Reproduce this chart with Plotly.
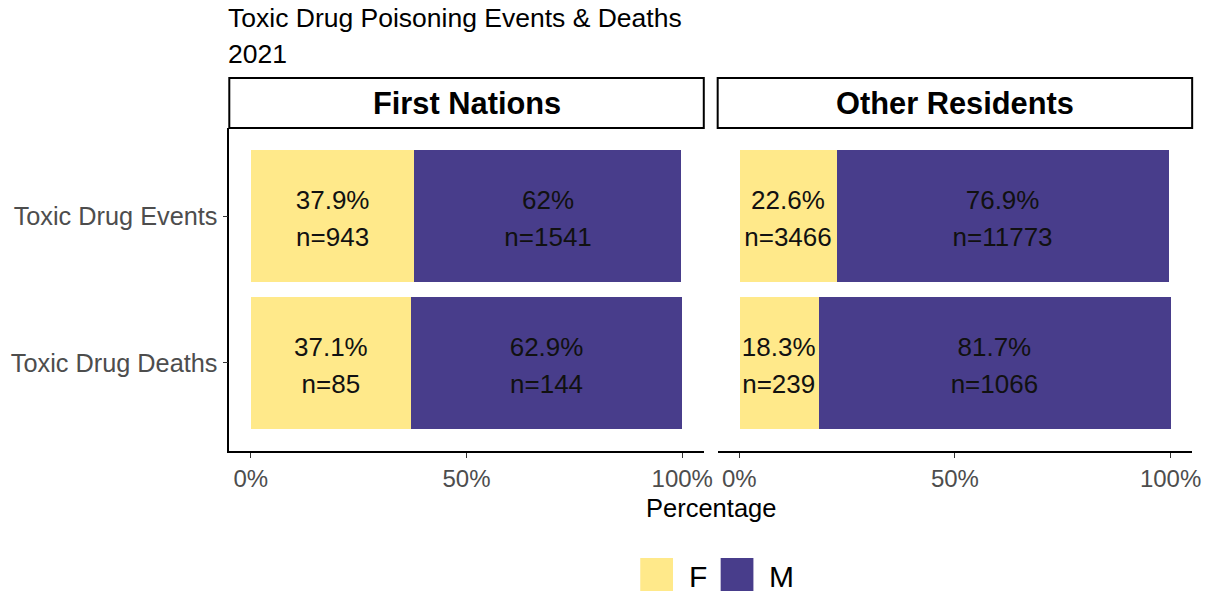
import plotly.graph_objects as go

# ---- data ----
categories = ["Toxic Drug Deaths", "Toxic Drug Events"]  # bottom -> top
groups = ["First Nations", "Other Residents"]
sexes = ["F", "M"]
pct_F_fn = [37.1, 37.9]
pct_M_fn = [62.9, 62.0]
n_F_fn = [85, 943]
n_M_fn = [144, 1541]
pct_F_or = [18.3, 22.6]
pct_M_or = [81.7, 76.9]
n_F_or = [239, 3466]
n_M_or = [1066, 11773]
x_ticks = [0, 50, 100]
x_tick_labels = ["0%", "50%", "100%"]

colors = {"F": "#FFE98A", "M": "#483D8B"}
FONT = "Liberation Sans, Arial, sans-serif"
W, H = 1223, 592

def px_x(p):
    return p / W

def px_y(p):
    return 1 - p / H

panels = [
    dict(name=groups[0], F=pct_F_fn, M=pct_M_fn, nF=n_F_fn, nM=n_M_fn, xa="x", ya="y", x0=231, x1=709),
    dict(name=groups[1], F=pct_F_or, M=pct_M_or, nF=n_F_or, nM=n_M_or, xa="x2", ya="y2", x0=723, x1=1201),
]
ypos = list(range(len(categories)))

fig = go.Figure()
for p in panels:
    for s in sexes:
        fig.add_trace(go.Bar(
            x=p[s], y=ypos, orientation="h", width=0.9,
            marker=dict(color=colors[s], line=dict(width=0)),
            name=s, showlegend=False, xaxis=p["xa"], yaxis=p["ya"],
            hoverinfo="skip",
        ))
    # labels
    cx_F = [f / 2 for f in p["F"]]
    cx_M = [f + m / 2 for f, m in zip(p["F"], p["M"])]
    for cx, vals, ns in [(cx_F, p["F"], p["nF"]), (cx_M, p["M"], p["nM"])]:
        fig.add_trace(go.Scatter(
            x=cx, y=[y + 0.092 for y in ypos], mode="text",
            text=[f"{v:g}%" for v in vals], textposition="middle center",
            textfont=dict(family=FONT, size=26, color="#111111"),
            showlegend=False, xaxis=p["xa"], yaxis=p["ya"], hoverinfo="skip",
        ))
        fig.add_trace(go.Scatter(
            x=cx, y=[y - 0.16 for y in ypos], mode="text",
            text=[f"n={n}" for n in ns], textposition="middle center",
            textfont=dict(family=FONT, size=26, color="#111111"),
            showlegend=False, xaxis=p["xa"], yaxis=p["ya"], hoverinfo="skip",
        ))

panel_y = [px_y(451), px_y(128)]
common_x = dict(range=[-5, 105], tickvals=x_ticks, ticktext=x_tick_labels,
                showline=True, linecolor="black", linewidth=1.5, ticks="outside",
                ticklen=5, tickcolor="#333333", tickwidth=1.2, showgrid=False, zeroline=False,
                tickfont=dict(family=FONT, size=24, color="#4D4D4D"), fixedrange=True)
fig.update_layout(
    width=W, height=H, margin=dict(l=0, r=0, t=0, b=0), autosize=False,
    paper_bgcolor="white", plot_bgcolor="white", barmode="stack", bargap=0,
    showlegend=False,
    xaxis=dict(domain=[px_x(231), px_x(709)], anchor="y", **common_x),
    xaxis2=dict(domain=[px_x(723), px_x(1201)], anchor="y2", **common_x),
    yaxis=dict(domain=panel_y, anchor="x", range=[-0.6, 1.6], tickvals=ypos, ticktext=categories,
               showline=True, linecolor="black", linewidth=1.5, ticks="outside", ticklen=5,
               tickcolor="#333333", tickwidth=1.2, showgrid=False, zeroline=False,
               tickfont=dict(family=FONT, size=25.3, color="#4D4D4D"), fixedrange=True),
    yaxis2=dict(domain=panel_y, anchor="x2", range=[-0.6, 1.6], showticklabels=False,
                showline=False, ticks="", showgrid=False, zeroline=False, fixedrange=True),
)

shapes = []
annotations = []
# strips
for p in panels:
    shapes.append(dict(type="rect", xref="paper", yref="paper",
                       x0=px_x(p["x0"]), x1=px_x(p["x1"]), y0=px_y(128), y1=px_y(78),
                       line=dict(color="black", width=2), fillcolor="white", layer="above"))
    annotations.append(dict(text=f"<b>{p['name']}</b>", xref="paper", yref="paper",
                            x=px_x((p["x0"] + p["x1"]) / 2), y=px_y(104), showarrow=False,
                            xanchor="center", yanchor="middle",
                            font=dict(family=FONT, size=30.8, color="black")))
# title & subtitle
annotations.append(dict(text="Toxic Drug Poisoning Events &amp; Deaths", xref="paper", yref="paper",
                        x=px_x(228), y=px_y(18), xanchor="left", yanchor="middle", showarrow=False,
                        font=dict(family=FONT, size=26.5, color="black")))
annotations.append(dict(text="2021", xref="paper", yref="paper",
                        x=px_x(228), y=px_y(54), xanchor="left", yanchor="middle", showarrow=False,
                        font=dict(family=FONT, size=26.5, color="black")))
# x axis title
annotations.append(dict(text="Percentage", xref="paper", yref="paper",
                        x=px_x(716), y=px_y(508), xanchor="center", yanchor="middle", showarrow=False,
                        font=dict(family=FONT, size=25.5, color="black")))
# legend
leg_x = [645, 726]
for s, lx in zip(sexes, leg_x):
    shapes.append(dict(type="rect", xref="paper", yref="paper",
                       x0=px_x(lx), x1=px_x(lx + 33), y0=px_y(591), y1=px_y(558),
                       line=dict(width=0), fillcolor=colors[s]))
    annotations.append(dict(text=s, xref="paper", yref="paper",
                            x=px_x(lx + 47), y=px_y(576), xanchor="left", yanchor="middle",
                            showarrow=False, font=dict(family=FONT, size=30, color="black")))
fig.update_layout(shapes=shapes, annotations=annotations)

post = (
    "document.body.style.margin='0';"
    "document.body.style.overflow='hidden';"
)
fig.write_html("out.html",
               config={"displayModeBar": False, "responsive": False},
               post_script=post)
